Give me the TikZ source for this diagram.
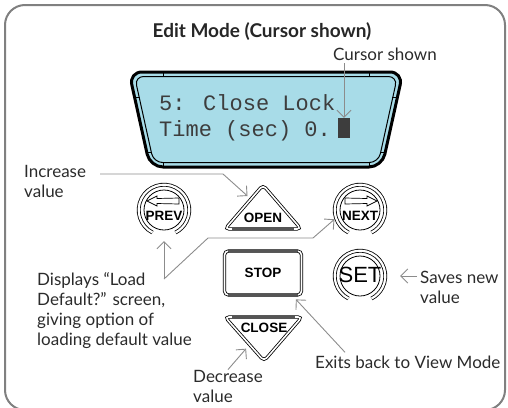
\documentclass[tikz,border=0pt]{standalone}
\usepackage{fontspec}
\setmainfont{Lato}
\newfontfamily\keyfont{Liberation Sans}
\newfontfamily\lcdfont{Liberation Mono}
\usetikzlibrary{calc,arrows.meta,positioning}
\definecolor{framegray}{HTML}{808080}
\definecolor{linegray}{HTML}{8C8C8C}
\definecolor{lcdblue}{HTML}{A8DCE8}
\definecolor{lcdink}{HTML}{3D3D3D}
\definecolor{inkgray}{HTML}{2B2B2B}
\definecolor{bandgray}{HTML}{555555}

\begin{document}
\begin{tikzpicture}[x=1pt, y=-1pt, every node/.style={inner sep=0pt, text=inkgray},
    lbl/.style={font=\fontsize{17}{20}\selectfont, align=left, anchor=base west},
    conn/.style={draw=linegray, line width=0.9pt, -{Straight Barb[length=7pt,width=14pt]}},
    keylbl/.style={font=\keyfont\bfseries\fontsize{13.5}{14}\selectfont, text=black},
    keyline/.style={draw=black, line width=0.8pt, double=white, double distance=1.6pt},
    roundkey/.style={circle, minimum size=54pt}]

    \useasboundingbox (0,0) rectangle (508,407);
    \draw[framegray, line width=2pt, rounded corners=20pt] (5,5) rectangle (505,410);

    % Title
    \node[font=\bfseries\fontsize{19}{22}\selectfont, text=black!85] (title) at (262,32) {Edit Mode (Cursor shown)};

    % Display
    \draw[line width=3pt, fill=lcdblue, rounded corners=13pt] (129,72) -- (403,72) -- (382,167) -- (150,167) -- cycle;
    \draw[line width=1pt, rounded corners=9pt] (134.6,76.5) -- (397.4,76.5) -- (378.4,162.5) -- (153.6,162.5) -- cycle;
    \foreach \a/\b in {163/72, 369/72, 163/162, 369/162}
        \draw[line width=0.8pt] (\a,\b) -- ++(0,5);
    \draw[line width=0.8pt] (134,97) -- (140,97) (146,152) -- (152,152)
                            (398,97) -- (392,97) (386,152) -- (380,152);
    \node[font=\lcdfont\fontsize{22}{22}\selectfont, text=lcdink, anchor=base west] (lcdone) at (159,110) {5: Close Lock};
    \node[font=\lcdfont\fontsize{22}{22}\selectfont, text=lcdink, anchor=base west] (lcdtwo) at (159,136) {Time (sec) 0.};
    \node[fill=lcdink, minimum width=12pt, minimum height=20pt] (blk) at (344,128) {};

    % Keys
    \node[roundkey] (prev) at (164,210) {};
    \node[roundkey] (next) at (360,210) {};
    \node[roundkey] (set) at (360,276) {};
    \foreach \k in {prev, next, set} {
        \draw[line width=0.8pt] (\k.center) circle[radius=20];
        \draw[keyline, double distance=2.2pt] ([shift={(117:25.3)}]\k.center) arc[start angle=117, end angle=423, radius=25.3];
    }
    \begin{scope}[shift={(prev.center)}]
        \draw[line width=0.7pt] (-17,-9) -- (-7,-14) -- (-7,-11.5) -- (15,-12) -- (15,-6) -- (-7,-6.5) -- (-7,-4) -- cycle;
    \end{scope}
    \begin{scope}[shift={(next.center)}, xscale=-1]
        \draw[line width=0.7pt] (-17,-9) -- (-7,-14) -- (-7,-11.5) -- (15,-12) -- (15,-6) -- (-7,-6.5) -- (-7,-4) -- cycle;
    \end{scope}
    \node[keylbl] (prevtxt) at ([shift={(0,6)}]prev.center) {PREV};
    \node[keylbl] (nexttxt) at ([shift={(0,6)}]next.center) {NEXT};
    \node[font=\keyfont\fontsize{22}{22}\selectfont, text=black] (settxt) at ([shift={(0,-1)}]set.center) {SET};

    \coordinate (opentop) at (263,185);
    \coordinate (openl) at (225,229);
    \coordinate (openr) at (301,229);
    \draw[keyline, rounded corners=4pt] (opentop) -- (openr) -- (openl) -- cycle;
    \draw[bandgray, line width=3pt] ($(openl)+(7,-0.5)$) -- ($(openr)+(-7,-0.5)$);
    \node[keylbl] (open) at (263,218) {OPEN};

    \node[keyline, keylbl, rounded corners=4pt, minimum width=77pt, minimum height=44pt] (stop) at (263,273) {STOP};
    \draw[bandgray, line width=2.2pt] ([xshift=4pt]stop.north west) -- ([xshift=-4pt]stop.north east);
    \draw[bandgray, line width=2.2pt] ([xshift=4pt]stop.south west) -- ([xshift=-4pt]stop.south east);

    \coordinate (closel) at (225,317);
    \coordinate (closer) at (302,317);
    \coordinate (closebot) at (264,361);
    \draw[keyline, rounded corners=4pt] (closel) -- (closer) -- (closebot) -- cycle;
    \draw[bandgray, line width=3pt] ($(closel)+(7,0.5)$) -- ($(closer)+(-7,0.5)$);
    \node[keylbl] (close) at (264,328) {CLOSE};

    % Labels (base = last line)
    \node[lbl] (curslbl) at (333,60) {Cursor shown};
    \node[lbl] (incr) at (24,197) {Increase\\value};
    \node[lbl] (disp) at (37,345) {Displays ``Load\\Default?'' screen,\\giving option of\\loading default value};
    \node[lbl] (saves) at (420,303) {Saves new\\value};
    \node[lbl] (exits) at (315,368) {Exits back to View Mode};
    \node[lbl] (decr) at (193,402) {Decrease\\value};

    % Connectors
    \coordinate (incbend) at (223,174);
    \coordinate (dispjoin) at (164,279);
    \draw[conn, shorten <=3pt] (curslbl.south -| blk.north) -- (blk.north);
    \draw[conn, shorten <=14pt] (incr.east |- incbend) -- (incbend) -- ($(opentop)!0.25!(openl)+(-6,0)$);
    \draw[conn, shorten >=4pt] (dispjoin) -- (prev.south);
    \draw[conn] (dispjoin) -- (208,238) -- (313,238) -- (next.200);
    \draw[conn, shorten >=13pt] ($(saves.west |- set.east)+(-3,0)$) -- (set.east);
    \draw[conn] ($(exits.north west)+(30,-3)$) -- ($(stop.south east)+(-6,4)$);
    \draw[conn] (decr.north) -- ($(closel)!0.72!(closebot)+(-7,0)$);

\end{tikzpicture}
\end{document}
